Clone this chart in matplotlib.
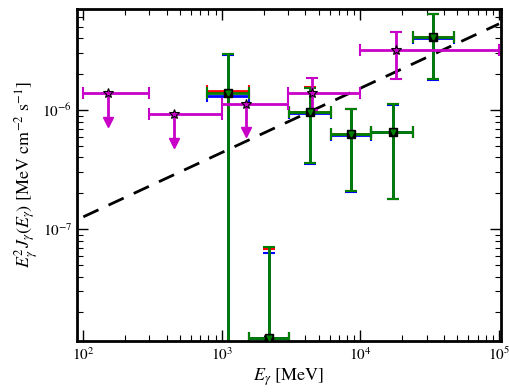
import matplotlib
matplotlib.use('Agg')
import matplotlib.pyplot as plt
import numpy as np

plt.rcParams['font.family'] = ['STIXGeneral', 'DejaVu Serif']
plt.rcParams['mathtext.fontset'] = 'stix'

# magenta upper limits (star + arrow)
ul_x = [150, 450, 1500]
ul_xlo = [100, 300, 1000]
ul_xhi = [300, 1000, 3000]
ul_y = [1.38e-6, 9.2e-7, 1.12e-6]
ul_tip = [8.0e-7, 5.3e-7, 6.6e-7]

# magenta detections
md_x = [4500, 1.8e4]
md_xlo = [3000, 1.0e4]
md_xhi = [1.0e4, 1.0e5]
md_y = [1.38e-6, 3.2e-6]
md_ylo = [1.0e-6, 1.82e-6]
md_yhi = [1.85e-6, 4.5e-6]

# binned points (red / blue / green sets drawn on top of each other)
bx = [1100, 2180, 4350, 8570, 1.71e4, 3.35e4]
bxlo = [780, 1560, 3050, 6100, 1.19e4, 2.4e4]
bxhi = [1560, 3050, 6100, 1.19e4, 2.4e4, 4.75e4]
g_y = [1.40e-6, 1.22e-8, 9.6e-7, 6.3e-7, 6.6e-7, 4.1e-6]
g_ylo = [1e-9, 1e-9, 3.6e-7, 2.1e-7, 1.8e-7, 1.82e-6]
g_yhi = [2.95e-6, 7.1e-8, 1.54e-6, 1.03e-6, 1.12e-6, 6.4e-6]
r_y = [1.44e-6, 1.22e-8, 9.7e-7, 6.35e-7, 6.6e-7, 4.1e-6]
r_yhi = [2.97e-6, 6.8e-8, 1.55e-6, 1.03e-6, 1.12e-6, 6.4e-6]
b_y = [1.32e-6, 1.22e-8, 9.4e-7, 6.15e-7, 6.55e-7, 4.05e-6]
b_yhi = [2.9e-6, 6.3e-8, 1.52e-6, 1.02e-6, 1.11e-6, 6.35e-6]
b_ylo = [1e-9, 1e-9, 3.55e-7, 2.05e-7, 1.78e-7, 1.8e-6]

# dashed power law
line_x = [1e2, 1e5]
line_y = [1.27e-7, 5.3e-6]

fig = plt.figure(figsize=(5.1, 3.92), dpi=100)
ax = fig.add_axes([0.151, 0.130, 0.831, 0.847])
ax.set_xscale('log')
ax.set_yscale('log')

ax.plot(line_x, line_y, 'k--', lw=2, dashes=(6, 4), zorder=1)

def xerrs(x, lo, hi):
    x = np.array(x); return [x - np.array(lo), np.array(hi) - x]

def yerrs(y, lo, hi):
    y = np.array(y); return [y - np.array(lo), np.array(hi) - y]

mag = '#c800c8'
# upper limits
ax.errorbar(ul_x, ul_y, xerr=xerrs(ul_x, ul_xlo, ul_xhi), fmt='none', ecolor=mag,
            elinewidth=2, capsize=4.5, capthick=1.5, zorder=3)
for x, y, t in zip(ul_x, ul_y, ul_tip):
    ax.plot([x, x], [y, t * 1.05], color=mag, lw=2, zorder=3)
    ax.plot(x, t, marker='v', color=mag, ms=6.5, zorder=3)
ax.plot(ul_x, ul_y, '*', mfc=mag, mec='k', ms=7, mew=0.8, zorder=5)

# detections magenta
ax.errorbar(md_x, md_y, xerr=xerrs(md_x, md_xlo, md_xhi), yerr=yerrs(md_y, md_ylo, md_yhi),
            fmt='none', ecolor=mag, elinewidth=2, capsize=4.5, capthick=1.5, zorder=3)
ax.plot(md_x, md_y, '*', mfc=mag, mec='k', ms=7, mew=0.8, zorder=5)

# binned points
ax.errorbar(bx, r_y, xerr=xerrs(bx, bxlo, bxhi), yerr=yerrs(r_y, g_ylo, r_yhi),
            fmt='none', ecolor='r', elinewidth=2, capsize=4.5, capthick=1.5, zorder=2)
ax.errorbar(bx, b_y, xerr=xerrs(bx, bxlo, bxhi), yerr=yerrs(b_y, b_ylo, b_yhi),
            fmt='none', ecolor='b', elinewidth=2, capsize=4.5, capthick=1.5, zorder=2)
ax.errorbar(bx, g_y, xerr=xerrs(bx, bxlo, bxhi), yerr=yerrs(g_y, g_ylo, g_yhi),
            fmt='none', ecolor='g', elinewidth=2, capsize=4.5, capthick=1.5, zorder=2.5)
ax.plot(bx, g_y, 's', color='k', ms=6, zorder=4)
ax.plot(bx, g_y, 'v', color='g', ms=3.5, zorder=4.5)

ax.set_xlim(90, 1.03e5)
ax.set_ylim(1.15e-8, 7.06e-6)

for s in ax.spines.values():
    s.set_linewidth(2)
ax.tick_params(which='both', direction='in', top=True, right=True, labelsize=11)
ax.tick_params(which='major', length=8, width=1)
ax.tick_params(which='minor', length=4, width=0.8)

ax.set_xlabel(r'$E_\gamma$ [MeV]', fontsize=13, labelpad=2)
ax.set_ylabel(r'$E_\gamma^2 J_\gamma(E_\gamma)$ [MeV cm$^{-2}$ s$^{-1}$]', fontsize=13, labelpad=2)

fig.savefig('out.png', dpi=100)
